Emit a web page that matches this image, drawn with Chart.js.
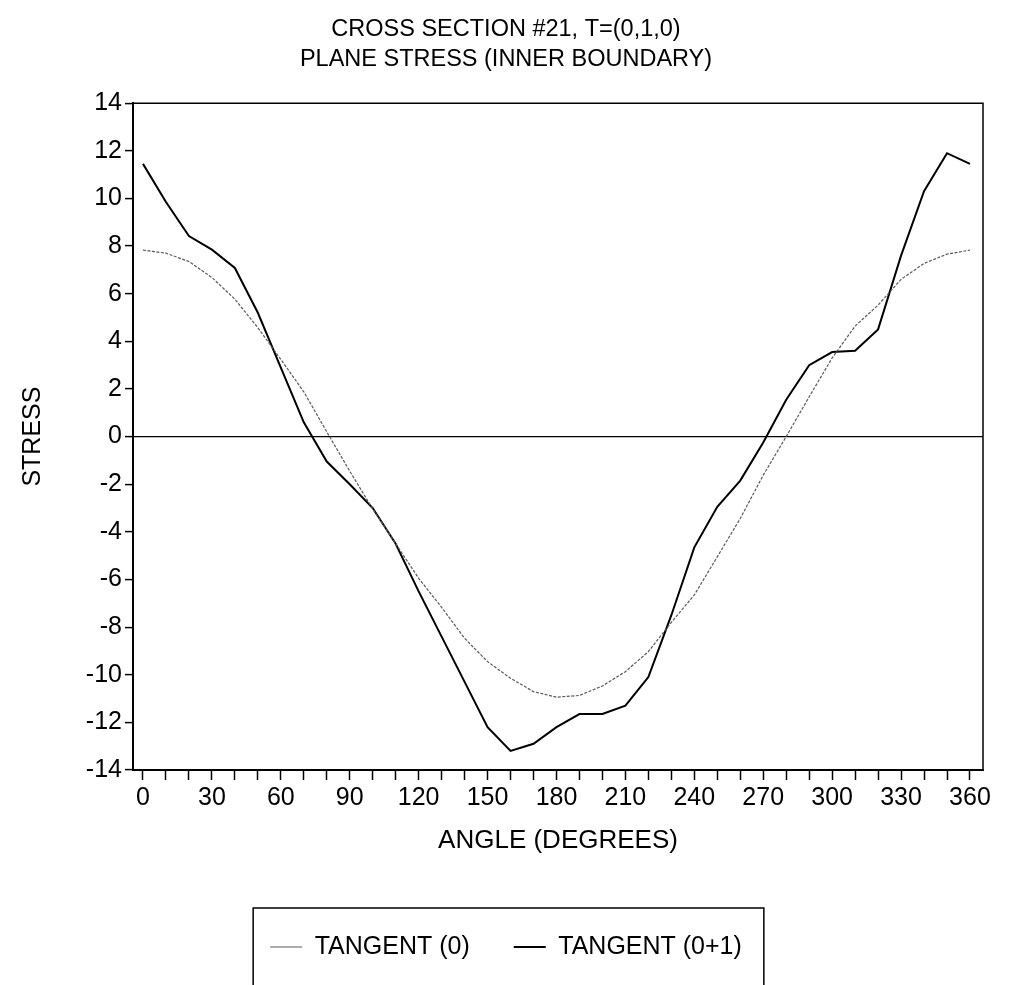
<!DOCTYPE html>
<html>
<head>
<meta charset="utf-8">
<script src="https://cdn.jsdelivr.net/npm/chart.js@4/dist/chart.umd.min.js"></script>
<style>
html,body{margin:0;padding:0;background:#fff;overflow:hidden}
#wrap{width:1012px;height:985px;position:relative}
</style>
</head>
<body>
<div id="wrap"><canvas id="c" width="1012" height="985"></canvas></div>
<script>
// ---- data ----
const angles = [0,10,20,30,40,50,60,70,80,90,100,110,120,130,140,150,160,170,180,190,200,210,220,230,240,250,260,270,280,290,300,310,320,330,340,350,360];
const tangent0 = [7.83,7.7,7.35,6.68,5.77,4.57,3.24,1.88,0.2,-1.45,-3.04,-4.5,-5.95,-7.17,-8.47,-9.45,-10.15,-10.71,-10.94,-10.87,-10.47,-9.87,-9.03,-7.8,-6.65,-5.05,-3.44,-1.62,0.0,1.67,3.3,4.64,5.52,6.6,7.27,7.66,7.83];
const tangent01 = [11.45,9.85,8.42,7.85,7.08,5.2,2.9,0.6,-1.05,-2.0,-3.0,-4.5,-6.5,-8.4,-10.3,-12.2,-13.2,-12.9,-12.2,-11.65,-11.65,-11.3,-10.1,-7.5,-4.65,-2.95,-1.85,-0.25,1.55,3.0,3.55,3.6,4.5,7.6,10.3,11.9,11.45];
const xTickValues = [0,10,20,30,40,50,60,70,80,90,100,110,120,130,140,150,160,170,180,190,200,210,220,230,240,250,260,270,280,290,300,310,320,330,340,350,360];
const xTickLabels = [0,30,60,90,120,150,180,210,240,270,300,330,360];
const yTickValues = [-14,-12,-10,-8,-6,-4,-2,0,2,4,6,8,10,12,14];
const titleLines = ['CROSS SECTION #21, T=(0,1,0)', 'PLANE STRESS (INNER BOUNDARY)'];
const seriesNames = ['TANGENT (0)', 'TANGENT (0+1)'];
const xTitle = 'ANGLE (DEGREES)';
const yTitle = 'STRESS';

const FONT = "'Liberation Sans', Arial, Helvetica, sans-serif";

const framePlugin = {
  id: 'frame',
  afterDatasetsDraw(chart) {
    const {ctx, chartArea: a} = chart;
    ctx.save();
    ctx.strokeStyle = '#000';
    ctx.lineWidth = 1.5;
    ctx.beginPath();
    ctx.moveTo(a.left, a.top);
    ctx.lineTo(a.right, a.top);
    ctx.lineTo(a.right, a.bottom);
    ctx.stroke();
    ctx.restore();
  }
};

const legendBoxPlugin = {
  id: 'legendBox',
  afterDraw(chart) {
    const lg = chart.legend;
    if (!lg || !lg.legendHitBoxes || !lg.legendHitBoxes.length) return;
    const hb = lg.legendHitBoxes;
    const first = hb[0], last = hb[hb.length - 1];
    const left = first.left - 17;
    const right = last.left + last.width + 22;
    const top = first.top + first.height / 2 - 39;
    const ctx = chart.ctx;
    ctx.save();
    ctx.strokeStyle = '#000';
    ctx.lineWidth = 1.5;
    ctx.beginPath();
    ctx.moveTo(left, chart.height + 5);
    ctx.lineTo(left, top);
    ctx.lineTo(right, top);
    ctx.lineTo(right, chart.height + 5);
    ctx.stroke();
    ctx.restore();
  }
};

const xMin = -4.35, xMax = 365.67;

new Chart(document.getElementById('c'), {
  type: 'line',
  data: {
    datasets: [
      {
        label: seriesNames[0],
        data: angles.map((a, i) => ({x: a, y: tangent0[i]})),
        borderColor: '#5a5a5a',
        borderWidth: 1.2,
        borderDash: [3, 1.5],
        pointRadius: 0,
        tension: 0,
        fill: false
      },
      {
        label: seriesNames[1],
        data: angles.map((a, i) => ({x: a, y: tangent01[i]})),
        borderColor: '#000',
        borderWidth: 2,
        pointRadius: 0,
        tension: 0,
        fill: false
      }
    ]
  },
  options: {
    responsive: false,
    animation: false,
    devicePixelRatio: 1,
    layout: {padding: {left: 0, right: 0, top: 0, bottom: 15.5}},
    plugins: {
      title: {
        display: true,
        text: titleLines,
        color: '#000',
        font: {family: FONT, size: 23.5, weight: 'normal', lineHeight: 1.28},
        padding: {top: 14, bottom: 29}
      },
      legend: {
        position: 'bottom',
        labels: {
          usePointStyle: true,
          pointStyle: 'line',
          pointStyleWidth: 32,
          padding: 44,
          color: '#000',
          font: {family: FONT, size: 25}
        }
      },
      tooltip: {enabled: false}
    },
    scales: {
      x: {
        type: 'linear',
        min: xMin,
        max: xMax,
        afterBuildTicks: s => { s.ticks = xTickValues.map(v => ({value: v})); },
        afterFit: s => { s.height = 120.5; s.paddingLeft = 0; s.paddingRight = 0; },
        ticks: {
          autoSkip: false,
          maxRotation: 0,
          padding: 3,
          color: '#000',
          font: {family: FONT, size: 25},
          callback: v => xTickLabels.includes(v) ? String(v) : ''
        },
        grid: {drawOnChartArea: false, color: '#000', tickLength: 10, tickWidth: 1.5},
        border: {display: true, color: '#000', width: 2},
        title: {
          display: true,
          text: xTitle,
          color: '#000',
          font: {family: FONT, size: 26},
          padding: {top: 0, bottom: 34}
        }
      },
      y: {
        type: 'linear',
        min: -14,
        max: 14,
        afterBuildTicks: s => { s.ticks = yTickValues.map(v => ({value: v})); },
        afterFit: s => { s.width = 133; s.paddingTop = 0; s.paddingBottom = 0; },
        ticks: {
          padding: 3,
          color: '#000',
          font: {family: FONT, size: 25}
        },
        grid: {
          color: c => (c.tick && c.tick.value === 0) ? '#000' : 'rgba(0,0,0,0)',
          tickColor: '#000',
          tickLength: 8,
          lineWidth: 1.2,
          tickWidth: 1.5
        },
        border: {display: true, color: '#000', width: 2},
        title: {
          display: true,
          text: yTitle,
          color: '#000',
          font: {family: FONT, size: 25},
          padding: {top: 18, bottom: 0}
        }
      },
      yRightSpacer: {
        type: 'linear',
        position: 'right',
        display: true,
        min: 0,
        max: 1,
        afterFit: s => { s.width = 29; s.paddingTop = 0; s.paddingBottom = 0; },
        ticks: {display: false},
        grid: {display: false, drawTicks: false},
        border: {display: false}
      }
    }
  },
  plugins: [framePlugin, legendBoxPlugin]
});
</script>
</body>
</html>
